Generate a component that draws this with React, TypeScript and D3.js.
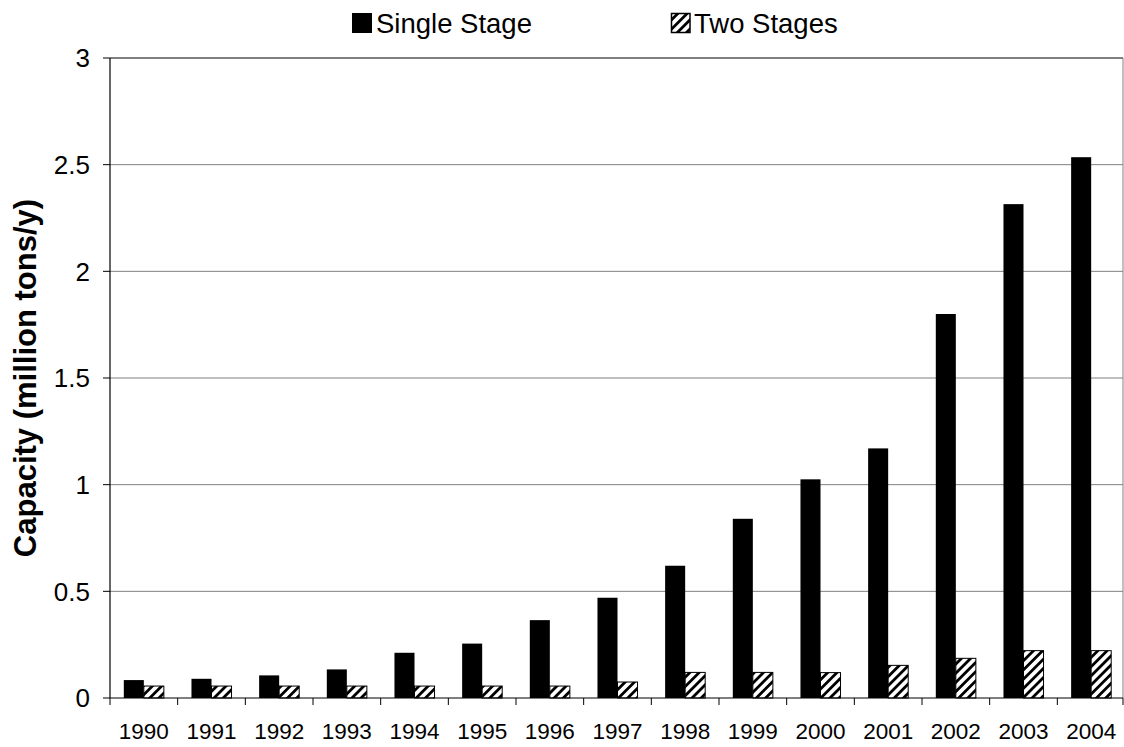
import React from "react";
import * as d3 from "d3";

const years = ["1990","1991","1992","1993","1994","1995","1996","1997","1998","1999","2000","2001","2002","2003","2004"];
const singleStage = [0.084,0.09,0.106,0.134,0.212,0.255,0.365,0.47,0.62,0.84,1.025,1.17,1.8,2.315,2.535];
const twoStages = [0.056,0.056,0.056,0.056,0.056,0.056,0.056,0.075,0.12,0.12,0.119,0.153,0.186,0.222,0.222];
const yTicks = [0,0.5,1,1.5,2,2.5,3];
const seriesNames = ["Single Stage","Two Stages"];

export default function App() {
  const W = 1124, H = 747;
  const left = 110, right = 1125, top = 58, bottom = 698;
  const x = d3.scaleBand<string>().domain(years).range([left, right]).paddingInner(0).paddingOuter(0);
  const y = d3.scaleLinear().domain([0, 3]).range([bottom, top]);
  const bw = x.bandwidth();
  const barW = bw * 0.296;
  const groupOff = (bw - 2 * barW) / 2;
  const font = "'Liberation Sans', Arial, sans-serif";
  return (
    <svg width={W} height={H} style={{ position: "absolute", left: 0, top: 0, background: "#fff" }} fontFamily={font}>
      <defs>
        <pattern id="hatch" patternUnits="userSpaceOnUse" width="6.5" height="6.5" patternTransform="rotate(45)">
          <rect width="6.5" height="6.5" fill="#fff" />
          <rect x="0" y="0" width="2.8" height="6.5" fill="#000" />
        </pattern>
      </defs>
      <rect width={W} height={H} fill="#fff" />
      {yTicks.slice(1).map((t) => (
        <line key={t} x1={left} x2={1123} y1={y(t)} y2={y(t)} stroke={t === 3 ? "#000" : "#808080"} strokeWidth={1} />
      ))}
      <line x1={1123} x2={1123} y1={top} y2={bottom} stroke="#808080" strokeWidth={1} />
      {years.map((yr, i) => {
        const x0 = x(yr)! + groupOff;
        return (
          <g key={yr}>
            <rect x={x0} y={y(singleStage[i])} width={barW} height={bottom - y(singleStage[i])} fill="#000" />
            <rect x={x0 + barW} y={y(twoStages[i])} width={barW} height={bottom - y(twoStages[i])} fill="url(#hatch)" stroke="#000" strokeWidth={1} />
          </g>
        );
      })}
      <line x1={left} x2={left} y1={top} y2={bottom} stroke="#000" strokeWidth={1.2} />
      <line x1={left} x2={1123} y1={bottom} y2={bottom} stroke="#000" strokeWidth={1.2} />
      {yTicks.map((t) => (
        <g key={t}>
          <line x1={left - 7} x2={left} y1={y(t)} y2={y(t)} stroke="#000" />
          <text x={left - 20} y={y(t)} dy="0.36em" textAnchor="end" fontSize={26}>{t}</text>
        </g>
      ))}
      {years.map((yr) => (
        <line key={yr} x1={x(yr)!} x2={x(yr)!} y1={bottom} y2={bottom + 7} stroke="#000" />
      ))}
      <line x1={1123} x2={1123} y1={bottom} y2={bottom + 7} stroke="#000" />
      {years.map((yr) => (
        <text key={yr} x={x(yr)! + bw / 2} y={739} textAnchor="middle" fontSize={22.5}>{yr}</text>
      ))}
      <text transform={`translate(36,${(top + bottom) / 2}) rotate(-90)`} textAnchor="middle" fontSize={31} fontWeight="bold">
        Capacity (million tons/y)
      </text>
      <rect x={352} y={13} width={20} height={20} fill="#000" />
      <text x={376} y={33} fontSize={27.5}>{seriesNames[0]}</text>
      <rect x={671.5} y={13.5} width={18.5} height={19} fill="url(#hatch)" stroke="#000" strokeWidth={1.5} />
      <text x={694} y={33} fontSize={27.5}>{seriesNames[1]}</text>
    </svg>
  );
}
